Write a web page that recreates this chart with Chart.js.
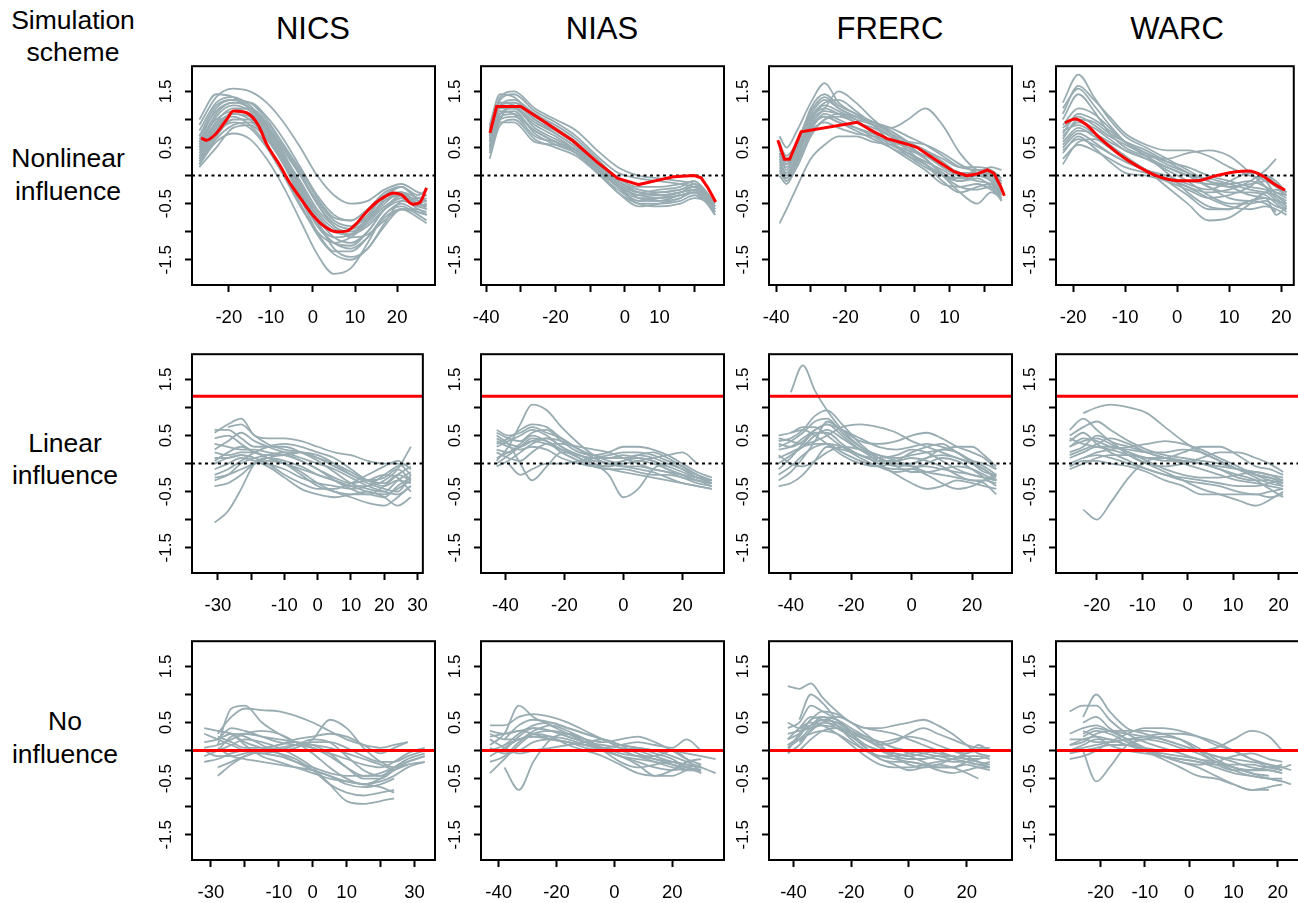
<!DOCTYPE html>
<html lang="en">
<head>
<meta charset="UTF-8">
<title>Simulation schemes</title>
<script src="https://cdn.jsdelivr.net/npm/chart.js@4.4.1/dist/chart.umd.min.js"></script>
<style>
  body { margin:0; background:#fff; width:1298px; height:903px; overflow:hidden; position:relative;
         font-family:"Liberation Sans", Arial, sans-serif; color:#000; }
  .lab { position:absolute; text-align:center; white-space:nowrap; }
  canvas { position:absolute; }
</style>
</head>
<body>
<div class="lab" style="left:0;width:146px;top:4px;font-size:26.5px;line-height:32px">Simulation<br>scheme</div>
<div class="lab" style="left:0;width:136px;top:142px;font-size:26.5px;line-height:33px">Nonlinear<br>influence</div>
<div class="lab" style="left:0;width:130px;top:427px;font-size:26.5px;line-height:32px">Linear<br>influence</div>
<div class="lab" style="left:0;width:130px;top:705px;font-size:26.5px;line-height:33px">No<br>influence</div>

<div class="lab" style="left:213px;width:200px;top:14px;font-size:31px;line-height:30px">NICS</div>
<div class="lab" style="left:502px;width:200px;top:14px;font-size:31px;line-height:30px">NIAS</div>
<div class="lab" style="left:790px;width:200px;top:14px;font-size:31px;line-height:30px">FRERC</div>
<div class="lab" style="left:1077px;width:200px;top:14px;font-size:31px;line-height:30px">WARC</div>

<script>
// ---- axis ticks ----
var yTicks = [-1.5, -1, -0.5, 0, 0.5, 1, 1.5]
var yTickLabels = ['-1.5', '', '-0.5', '', '0.5', '', '1.5']
var ticksA = [-20, -10, 0, 10, 20]
var labelsA = ['-20', '-10', '0', '10', '20']
var ticksB = [-40, -30, -20, -10, 0, 10, 20]
var labelsB = ['-40', '', '-20', '', '0', '10', '']
var ticksC = [-30, -20, -10, 0, 10, 20, 30]
var labelsC2 = ['-30', '', '-10', '0', '10', '20', '30']
var labelsC3 = ['-30', '', '-10', '0', '10', '', '30']
var ticksD = [-40, -20, 0, 20]
var labelsD = ['-40', '-20', '0', '20']

// true effect levels
var trueLinear = 1.2
var trueNone = 0

// ---- row 1: nonlinear influence ----
var nicsNonX = [-27, -23, -19, -15, -11, -7, -3, 1, 5, 9, 13, 17, 21, 25, 27]
var nicsNonGray = [
  [0.9, 1.4, 1.55, 1.5, 1.3, 0.95, 0.5, 0.0, -0.35, -0.5, -0.45, -0.25, -0.15, -0.3, -0.35],
  [0.6, 1.2, 1.35, 1.2, 0.85, 0.35, -0.2, -0.7, -1.0, -1.05, -0.8, -0.45, -0.3, -0.5, -0.45],
  [0.3, 0.75, 0.95, 0.85, 0.5, 0.0, -0.55, -1.0, -1.2, -1.1, -0.85, -0.55, -0.4, -0.6, -0.65],
  [0.2, 0.6, 0.75, 0.65, 0.3, -0.2, -0.8, -1.4, -1.75, -1.65, -1.2, -0.7, -0.55, -0.7, -0.8],
  [0.5, 1.05, 1.25, 1.15, 0.8, 0.3, -0.25, -0.75, -1.1, -1.2, -1.0, -0.6, -0.4, -0.55, -0.5],
  [0.8, 1.3, 1.4, 1.25, 0.9, 0.45, 0.0, -0.45, -0.8, -0.9, -0.75, -0.45, -0.35, -0.5, -0.55],
  [0.35, 0.85, 1.1, 1.05, 0.75, 0.25, -0.35, -0.9, -1.2, -1.3, -1.1, -0.75, -0.6, -0.75, -0.85],
  [0.45, 0.95, 1.2, 1.2, 0.95, 0.55, 0.05, -0.5, -0.9, -1.0, -0.8, -0.4, -0.2, -0.35, -0.25],
  [0.15, 0.5, 0.85, 0.9, 0.65, 0.2, -0.35, -0.85, -1.1, -1.05, -0.75, -0.35, -0.3, -0.55, -0.5],
  [0.7, 1.15, 1.3, 1.2, 0.85, 0.35, -0.2, -0.8, -1.3, -1.45, -1.3, -0.85, -0.45, -0.4, -0.45],
  [0.4, 0.9, 1.1, 1.0, 0.7, 0.25, -0.3, -0.8, -1.0, -0.95, -0.7, -0.35, -0.2, -0.45, -0.6],
  [0.55, 1.1, 1.3, 1.3, 1.05, 0.65, 0.15, -0.35, -0.7, -0.8, -0.6, -0.3, -0.2, -0.4, -0.35],
  [0.25, 0.7, 1.0, 1.0, 0.7, 0.2, -0.4, -1.0, -1.35, -1.35, -1.1, -0.7, -0.5, -0.65, -0.7],
  [0.65, 1.0, 1.15, 1.1, 0.8, 0.35, -0.1, -0.6, -0.9, -1.1, -1.05, -0.8, -0.6, -0.65, -0.7],
  [1.0, 1.45, 1.4, 1.2, 0.9, 0.5, 0.0, -0.5, -0.85, -0.95, -0.8, -0.5, -0.3, -0.4, -0.45],
  [0.3, 0.8, 1.15, 1.2, 0.9, 0.4, -0.15, -0.65, -0.95, -1.05, -0.9, -0.6, -0.45, -0.55, -0.6],
  [0.5, 0.95, 1.05, 0.9, 0.55, 0.05, -0.5, -1.05, -1.4, -1.5, -1.3, -0.9, -0.6, -0.6, -0.7],
  [0.7, 1.25, 1.35, 1.3, 1.0, 0.55, 0.1, -0.4, -0.75, -0.8, -0.6, -0.35, -0.3, -0.45, -0.4],
  [0.2, 0.65, 0.9, 0.95, 0.7, 0.25, -0.3, -0.85, -1.2, -1.25, -1.0, -0.6, -0.35, -0.5, -0.55]
]
var nicsNonRedX = [-26.6, -25.3, -23, -20.5, -18.9, -15.8, -13, -11, -8, -5.5, -3, 0, 3, 5.6, 8, 10, 12.7, 15, 17, 19.1, 21, 23.8, 25.4, 27]
var nicsNonRedY = [0.67, 0.63, 0.75, 1.0, 1.15, 1.12, 0.9, 0.56, 0.2, -0.13, -0.4, -0.71, -0.92, -1.0, -0.99, -0.88, -0.65, -0.48, -0.38, -0.31, -0.34, -0.51, -0.48, -0.22]

var niasNonX = [-39, -36, -32, -26, -20, -14, -8, -2, 4, 10, 16, 20, 23, 26]
var niasNonGray = [
  [0.6, 1.35, 1.45, 1.15, 0.95, 0.7, 0.35, 0.05, -0.05, -0.1, -0.15, -0.2, -0.3, -0.55],
  [0.3, 0.9, 1.0, 0.65, 0.5, 0.35, 0.05, -0.25, -0.45, -0.45, -0.35, -0.3, -0.45, -0.65],
  [0.8, 1.3, 1.3, 1.0, 0.8, 0.55, 0.2, -0.15, -0.35, -0.3, -0.25, -0.2, -0.35, -0.6],
  [0.9, 1.45, 1.4, 1.05, 0.85, 0.6, 0.25, -0.1, -0.3, -0.35, -0.3, -0.25, -0.4, -0.7],
  [0.5, 1.1, 1.15, 0.75, 0.55, 0.4, 0.1, -0.2, -0.5, -0.5, -0.45, -0.35, -0.45, -0.6],
  [0.7, 1.2, 1.2, 0.9, 0.7, 0.45, 0.15, -0.15, -0.3, -0.25, -0.2, -0.1, -0.25, -0.5],
  [0.55, 1.0, 1.05, 0.8, 0.6, 0.4, 0.05, -0.3, -0.55, -0.5, -0.4, -0.3, -0.35, -0.55],
  [0.75, 1.25, 1.35, 1.1, 0.9, 0.65, 0.3, -0.05, -0.2, -0.2, -0.15, -0.1, -0.3, -0.6],
  [0.65, 1.15, 1.1, 0.7, 0.6, 0.4, 0.1, -0.2, -0.4, -0.4, -0.35, -0.3, -0.4, -0.65],
  [0.45, 1.0, 1.25, 1.0, 0.75, 0.5, 0.2, -0.1, -0.3, -0.35, -0.3, -0.2, -0.3, -0.5],
  [0.85, 1.3, 1.25, 0.95, 0.75, 0.5, 0.15, -0.2, -0.35, -0.4, -0.35, -0.3, -0.4, -0.55],
  [0.6, 1.1, 1.2, 0.85, 0.65, 0.45, 0.1, -0.15, -0.4, -0.45, -0.4, -0.25, -0.35, -0.65],
  [0.7, 1.4, 1.5, 1.2, 1.0, 0.8, 0.45, 0.15, 0.0, -0.05, -0.1, -0.15, -0.3, -0.6],
  [0.5, 1.05, 1.1, 0.8, 0.6, 0.45, 0.1, -0.3, -0.5, -0.55, -0.5, -0.4, -0.45, -0.7],
  [0.9, 1.25, 1.3, 1.1, 0.85, 0.55, 0.2, -0.1, -0.25, -0.3, -0.25, -0.15, -0.3, -0.5],
  [0.4, 0.95, 0.95, 0.6, 0.55, 0.45, 0.15, -0.2, -0.45, -0.4, -0.3, -0.25, -0.4, -0.55]
]
var niasNonRedX = [-38.9, -37, -30, -24, -15, -8, -2, 4, 9, 14, 20, 22, 24, 26.2]
var niasNonRedY = [0.76, 1.23, 1.23, 0.99, 0.62, 0.24, -0.05, -0.16, -0.09, -0.02, 0.0, -0.04, -0.22, -0.47]

var frercNonX = [-39, -37, -34, -30, -26, -22, -17, -12, -7, -2, 3, 8, 13, 18, 22, 25]
var frercNonGray = [
  [0.7, 0.5, 0.8, 1.3, 1.65, 1.3, 1.1, 0.95, 0.8, 0.6, 0.45, 0.25, 0.05, 0.05, 0.0, -0.2],
  [0.3, 0.0, 0.3, 0.9, 1.2, 1.5, 1.3, 1.0, 0.75, 0.5, 0.3, 0.05, -0.1, 0.0, -0.1, -0.3],
  [-0.85, -0.6, -0.2, 0.3, 0.55, 0.7, 0.7, 0.6, 0.55, 0.45, 0.35, 0.15, 0.0, -0.1, -0.15, -0.35],
  [0.2, 0.0, 0.4, 1.0, 1.2, 1.1, 0.95, 0.85, 0.7, 0.55, 0.3, 0.0, -0.3, -0.5, -0.3, -0.4],
  [0.5, 0.2, 0.6, 1.1, 1.35, 1.2, 1.05, 0.9, 0.85, 1.0, 1.2, 0.9, 0.4, 0.1, 0.05, -0.1],
  [0.1, -0.1, 0.15, 0.7, 1.0, 1.05, 0.95, 0.8, 0.6, 0.4, 0.2, 0.0, -0.1, -0.05, -0.2, -0.45],
  [0.4, 0.1, 0.5, 1.2, 1.45, 1.25, 1.1, 0.95, 0.75, 0.6, 0.45, 0.3, 0.15, 0.15, 0.1, -0.05],
  [0.0, -0.15, 0.2, 0.8, 1.1, 1.0, 0.85, 0.7, 0.5, 0.3, 0.1, -0.15, -0.2, -0.15, -0.25, -0.4],
  [0.35, 0.15, 0.45, 1.0, 1.25, 1.15, 1.0, 0.75, 0.55, 0.4, 0.25, 0.1, -0.05, 0.1, 0.0, -0.25],
  [0.6, 0.3, 0.5, 0.9, 1.05, 0.95, 0.85, 0.75, 0.65, 0.6, 0.55, 0.4, 0.2, 0.05, -0.05, -0.3],
  [0.15, -0.05, 0.3, 0.95, 1.15, 1.1, 1.0, 0.9, 0.7, 0.45, 0.2, -0.1, -0.3, -0.2, -0.15, -0.35],
  [0.45, 0.25, 0.55, 1.05, 1.3, 1.35, 1.15, 0.9, 0.6, 0.35, 0.15, 0.0, -0.05, 0.05, 0.15, 0.1],
  [0.55, 0.35, 0.6, 1.15, 1.4, 1.2, 1.05, 0.95, 0.85, 0.7, 0.55, 0.35, 0.15, 0.1, 0.05, -0.15],
  [0.25, 0.05, 0.35, 0.85, 1.05, 0.95, 0.8, 0.65, 0.5, 0.35, 0.2, 0.0, -0.2, -0.25, -0.2, -0.35],
  [0.05, -0.05, 0.25, 0.75, 1.0, 1.1, 1.05, 0.95, 0.8, 0.6, 0.4, 0.15, 0.0, 0.05, 0.05, -0.25],
  [0.4, 0.2, 0.45, 0.8, 0.95, 0.85, 0.75, 0.7, 0.6, 0.5, 0.35, 0.2, 0.05, 0.0, -0.1, -0.45]
]
var frercNonRedX = [-39.5, -37.6, -36.1, -32.8, -16.6, -11.8, -8, -2.2, 0.7, 5.5, 11.3, 15.1, 18, 20.9, 22.8, 24.7, 25.8]
var frercNonRedY = [0.63, 0.29, 0.29, 0.78, 0.95, 0.78, 0.66, 0.56, 0.5, 0.3, 0.07, 0.0, 0.03, 0.1, 0.04, -0.19, -0.36]

var warcNonX = [-22, -19, -16, -13, -10, -6, -2, 2, 6, 10, 14, 17, 19, 21]
var warcNonGray = [
  [1.3, 1.8, 1.4, 1.0, 0.7, 0.5, 0.3, 0.1, -0.1, -0.15, -0.1, -0.2, -0.3, -0.4],
  [1.1, 1.6, 1.35, 1.05, 0.75, 0.55, 0.45, 0.45, 0.35, 0.15, 0.0, -0.1, -0.35, -0.5],
  [0.8, 0.9, 0.75, 0.55, 0.35, 0.1, -0.1, -0.35, -0.6, -0.6, -0.45, -0.4, -0.7, -0.55],
  [0.2, 0.6, 0.65, 0.5, 0.3, 0.1, -0.05, -0.2, -0.3, -0.25, -0.1, 0.1, 0.3, null],
  [0.6, 0.85, 0.7, 0.5, 0.3, 0.1, -0.2, -0.5, -0.8, -0.75, -0.5, -0.3, -0.45, -0.6],
  [0.9, 1.2, 1.1, 0.85, 0.6, 0.35, 0.15, 0.0, -0.05, -0.15, -0.25, -0.3, -0.35, -0.45],
  [0.4, 0.7, 0.5, 0.25, 0.05, 0.0, -0.1, -0.25, -0.4, -0.35, -0.2, 0.0, -0.1, -0.3],
  [0.7, 0.95, 0.85, 0.65, 0.45, 0.3, 0.15, 0.0, -0.2, -0.3, -0.3, -0.35, -0.5, -0.65],
  [1.0, 1.45, 1.15, 0.75, 0.5, 0.35, 0.3, 0.4, 0.45, 0.35, 0.05, -0.2, -0.4, -0.55],
  [0.5, 0.75, 0.6, 0.4, 0.25, 0.1, 0.0, -0.15, -0.25, -0.1, 0.05, 0.0, -0.15, -0.3],
  [0.85, 1.05, 0.9, 0.7, 0.55, 0.35, 0.05, -0.3, -0.55, -0.6, -0.45, -0.5, -0.65, null],
  [0.3, 0.55, 0.45, 0.3, 0.15, 0.05, -0.05, -0.1, -0.15, -0.2, -0.35, -0.4, -0.45, -0.5],
  [0.65, 1.0, 0.95, 0.75, 0.6, 0.45, 0.25, 0.05, -0.2, -0.4, -0.45, -0.3, -0.25, -0.35],
  [1.2, 1.55, 1.25, 0.9, 0.6, 0.4, 0.2, 0.05, -0.1, -0.2, -0.15, -0.1, -0.2, -0.35],
  [0.55, 0.8, 0.75, 0.6, 0.45, 0.3, 0.1, -0.1, -0.35, -0.5, -0.5, -0.45, -0.55, -0.6],
  [0.75, 1.1, 1.0, 0.8, 0.6, 0.4, 0.25, 0.15, 0.0, -0.1, -0.2, -0.25, -0.3, -0.35],
  [0.45, 0.65, 0.55, 0.4, 0.25, 0.1, -0.05, -0.2, -0.4, -0.55, -0.6, -0.55, -0.6, -0.7]
]
var warcNonRedX = [-21.6, -19.7, -17.5, -15, -11.3, -7.5, -3.8, 0, 3.8, 7.5, 11.3, 13.8, 16.3, 18.8, 20.7]
var warcNonRedY = [0.94, 1.01, 0.91, 0.68, 0.39, 0.16, -0.01, -0.09, -0.09, 0.0, 0.07, 0.08, 0.0, -0.16, -0.26]

// ---- row 2: linear influence ----
var nicsLinX = [-31, -27, -23, -19, -15, -10, -5, 0, 5, 10, 15, 20, 24, 28]
var nicsLinGray = [
  [-1.05, -0.85, -0.45, 0.0, 0.1, 0.05, -0.05, -0.2, -0.3, -0.4, -0.4, -0.3, -0.1, 0.3],
  [0.55, 0.7, 0.8, 0.5, 0.45, 0.45, 0.4, 0.3, 0.2, 0.15, 0.05, 0.0, 0.0, -0.2],
  [0.6, 0.6, 0.45, 0.3, 0.3, 0.3, 0.2, 0.05, -0.15, -0.35, -0.45, -0.5, -0.3, -0.15],
  [0.2, 0.15, 0.2, 0.2, 0.1, 0.0, -0.2, -0.4, -0.5, -0.55, -0.55, -0.6, -0.4, -0.25],
  [-0.4, -0.35, -0.2, 0.0, 0.05, 0.0, -0.15, -0.35, -0.5, -0.6, -0.7, -0.75, -0.6, -0.4],
  [0.1, 0.1, 0.15, 0.1, 0.0, -0.2, -0.35, -0.45, -0.45, -0.35, -0.2, -0.05, 0.05, -0.1],
  [-0.2, -0.1, 0.05, 0.2, 0.3, 0.35, 0.3, 0.2, 0.1, -0.1, -0.3, -0.4, -0.3, -0.35],
  [0.35, 0.3, 0.25, 0.25, 0.2, 0.15, 0.05, -0.1, -0.3, -0.45, -0.55, -0.4, -0.2, -0.05],
  [0.0, 0.1, 0.15, 0.1, 0.0, -0.1, -0.25, -0.35, -0.4, -0.45, -0.4, -0.2, -0.05, 0.0],
  [-0.1, 0.0, 0.1, 0.05, -0.05, -0.25, -0.45, -0.55, -0.6, -0.55, -0.5, -0.6, -0.75, -0.6],
  [0.45, 0.5, 0.35, 0.2, 0.15, 0.15, 0.2, 0.15, 0.0, -0.2, -0.3, -0.25, -0.1, -0.3],
  [-0.25, -0.2, -0.1, 0.0, 0.1, 0.15, 0.05, -0.1, -0.25, -0.35, -0.3, -0.2, -0.25, -0.5],
  [null, 0.65, 0.7, 0.5, 0.35, 0.25, 0.2, 0.1, 0.0, -0.15, -0.3, -0.35, -0.2, -0.3],
  [0.05, 0.2, 0.3, 0.2, 0.1, 0.0, -0.1, -0.2, -0.3, -0.4, -0.5, -0.55, -0.45, -0.3],
  [-0.3, -0.2, 0.0, 0.1, 0.15, 0.2, 0.2, 0.1, -0.05, -0.2, -0.35, -0.45, -0.5, -0.2],
  [0.25, 0.4, 0.55, 0.4, 0.3, 0.2, 0.1, 0.0, -0.1, -0.25, -0.4, -0.5, -0.55, -0.4]
]

var niasLinX = [-43, -39, -35, -31, -26, -21, -15, -10, -5, 0, 5, 10, 15, 20, 25, 30]
var niasLinGray = [
  [0.05, 0.3, 0.7, 1.05, 0.95, 0.65, 0.35, 0.15, 0.05, 0.0, 0.05, 0.0, -0.1, -0.2, -0.3, -0.35],
  [0.5, 0.35, 0.0, -0.3, -0.05, 0.2, 0.15, 0.0, -0.2, -0.6, -0.45, -0.1, 0.0, -0.1, -0.25, -0.3],
  [0.55, 0.45, 0.4, 0.55, 0.6, 0.4, 0.2, 0.15, 0.2, 0.3, 0.3, 0.25, 0.15, 0.0, -0.15, -0.25],
  [0.3, 0.4, 0.5, 0.6, 0.5, 0.3, 0.15, 0.05, 0.0, -0.05, -0.1, -0.15, -0.25, -0.35, -0.4, -0.45],
  [0.1, 0.2, 0.3, 0.4, 0.35, 0.25, 0.15, 0.1, 0.1, 0.15, 0.1, 0.05, -0.1, -0.2, -0.3, -0.35],
  [-0.05, 0.05, 0.2, 0.35, 0.45, 0.4, 0.25, 0.1, 0.0, -0.05, -0.05, -0.1, -0.15, -0.2, -0.25, -0.3],
  [0.4, 0.3, 0.25, 0.3, 0.25, 0.1, 0.0, -0.05, -0.05, 0.0, 0.05, 0.1, 0.15, 0.2, 0.0, null],
  [0.2, 0.1, 0.05, 0.2, 0.35, 0.35, 0.3, 0.25, 0.2, 0.1, 0.0, -0.1, -0.15, -0.25, -0.3, -0.4],
  [null, 0.0, -0.2, -0.1, 0.0, 0.0, 0.05, 0.1, 0.15, 0.2, 0.2, 0.15, 0.05, -0.05, -0.2, null],
  [0.6, 0.5, 0.55, 0.65, 0.55, 0.45, 0.25, 0.1, 0.0, 0.05, 0.1, 0.05, -0.05, -0.15, -0.25, -0.35],
  [0.25, 0.2, 0.35, 0.5, 0.4, 0.2, 0.05, -0.05, -0.1, -0.1, -0.15, -0.2, -0.2, -0.25, -0.35, -0.4],
  [0.35, 0.45, 0.6, 0.7, 0.65, 0.45, 0.25, 0.15, 0.1, 0.1, 0.15, 0.1, 0.0, -0.1, -0.2, -0.3],
  [0.0, 0.15, 0.3, 0.45, 0.4, 0.25, 0.1, 0.0, -0.05, 0.05, 0.15, 0.2, 0.1, -0.05, -0.2, -0.35],
  [0.45, 0.35, 0.3, 0.4, 0.45, 0.3, 0.1, -0.05, -0.1, -0.15, -0.2, -0.25, -0.3, -0.35, -0.4, -0.45]
]

var frercLinX = [-44, -40, -36, -32, -28, -23, -17, -11, -5, 0, 5, 10, 15, 20, 24, 28]
var frercLinGray = [
  [null, 1.27, 1.75, 1.3, 0.95, 0.6, 0.3, 0.1, 0.0, -0.05, -0.05, -0.1, -0.15, -0.2, -0.25, -0.3],
  [-0.3, -0.15, 0.1, 0.4, 0.75, 0.6, 0.4, 0.35, 0.4, 0.5, 0.55, 0.45, 0.3, 0.2, 0.1, -0.1],
  [0.45, 0.4, 0.35, 0.4, 0.5, 0.65, 0.7, 0.65, 0.55, 0.4, 0.3, 0.2, 0.1, 0.0, -0.1, -0.3],
  [0.0, 0.15, 0.3, 0.5, 0.6, 0.45, 0.25, 0.15, 0.1, 0.15, 0.2, 0.25, 0.3, 0.3, 0.15, -0.05],
  [-0.4, -0.35, -0.2, 0.05, 0.3, 0.25, 0.15, 0.0, -0.2, -0.35, -0.45, -0.4, -0.3, -0.35, -0.4, -0.45],
  [0.3, 0.4, 0.55, 0.75, 0.8, 0.55, 0.3, 0.15, 0.05, -0.05, -0.15, -0.2, -0.25, -0.3, -0.35, -0.55],
  [0.15, 0.0, -0.05, 0.05, 0.2, 0.3, 0.25, 0.1, 0.0, 0.0, 0.1, 0.25, 0.2, 0.0, -0.15, -0.2],
  [0.4, 0.45, 0.6, 0.85, 0.95, 0.7, 0.35, 0.1, -0.05, -0.15, -0.15, -0.1, -0.05, -0.1, -0.2, -0.3],
  [0.1, 0.2, 0.3, 0.35, 0.35, 0.3, 0.15, 0.05, 0.05, 0.1, 0.05, -0.05, -0.2, -0.3, -0.3, -0.35],
  [null, 0.55, 0.6, 0.5, 0.35, 0.15, 0.0, -0.05, 0.05, 0.2, 0.3, 0.35, 0.2, 0.05, 0.0, -0.1],
  [0.5, 0.55, 0.65, 0.65, 0.5, 0.3, 0.1, -0.05, -0.15, -0.1, 0.0, 0.1, 0.05, -0.1, -0.25, -0.4],
  [-0.2, -0.05, 0.15, 0.3, 0.35, 0.2, 0.05, -0.05, -0.1, -0.1, -0.2, -0.35, -0.45, -0.4, -0.3, -0.2],
  [0.25, 0.3, 0.45, 0.6, 0.7, 0.6, 0.45, 0.3, 0.25, 0.3, 0.35, 0.3, 0.2, 0.05, -0.05, -0.2],
  [-0.1, 0.1, 0.35, 0.55, 0.55, 0.35, 0.15, 0.1, 0.15, 0.25, 0.2, 0.05, -0.1, -0.2, -0.25, -0.3],
  [0.35, 0.3, 0.4, 0.6, 0.7, 0.5, 0.25, 0.05, -0.05, 0.0, 0.1, 0.15, 0.1, 0.0, -0.1, -0.25]
]

var warcLinX = [-26, -23, -20, -17, -13, -9, -5, -1, 3, 7, 11, 15, 18, 21]
var warcLinGray = [
  [null, -0.82, -1.0, -0.7, -0.25, 0.05, 0.1, 0.05, 0.0, -0.05, -0.1, -0.15, -0.2, -0.3],
  [null, 0.9, 1.0, 1.05, 1.0, 0.9, 0.65, 0.4, 0.2, 0.05, -0.1, -0.2, -0.25, -0.35],
  [0.6, 0.8, 0.6, 0.4, 0.3, 0.2, 0.1, 0.05, 0.0, -0.1, -0.2, -0.3, -0.45, -0.6],
  [0.3, 0.4, 0.45, 0.35, 0.2, 0.1, 0.05, 0.05, 0.0, -0.1, -0.25, -0.3, -0.3, -0.4],
  [0.1, 0.2, 0.3, 0.3, 0.2, 0.05, -0.1, -0.2, -0.25, -0.25, -0.2, -0.15, -0.2, -0.25],
  [-0.1, 0.0, 0.1, 0.15, 0.15, 0.1, 0.1, 0.2, 0.3, 0.3, 0.15, -0.05, -0.1, -0.2],
  [0.45, 0.35, 0.3, 0.25, 0.15, 0.0, -0.15, -0.3, -0.45, -0.55, -0.65, -0.75, -0.65, -0.5],
  [0.2, 0.3, 0.5, 0.4, 0.15, 0.0, -0.05, 0.0, 0.1, 0.2, 0.2, 0.1, 0.0, -0.15],
  [0.0, 0.1, 0.15, 0.1, 0.0, -0.1, -0.2, -0.3, -0.35, -0.4, -0.5, -0.55, -0.5, -0.45],
  [null, 0.1, 0.2, 0.25, 0.3, 0.35, 0.4, 0.35, 0.25, 0.1, -0.05, -0.2, -0.3, -0.35],
  [0.4, 0.55, 0.35, 0.2, 0.05, -0.1, -0.2, -0.25, -0.3, -0.35, -0.4, -0.4, -0.35, -0.3],
  [-0.05, 0.05, 0.05, 0.0, -0.05, -0.15, -0.3, -0.4, -0.55, -0.55, -0.55, -0.55, -0.6, -0.55],
  [0.5, 0.65, 0.75, 0.6, 0.4, 0.25, 0.15, 0.1, 0.05, 0.0, -0.1, -0.2, -0.25, -0.3],
  [0.15, 0.25, 0.35, 0.45, 0.35, 0.2, 0.1, 0.0, -0.1, -0.2, -0.3, -0.35, -0.4, -0.45],
  [0.3, 0.45, 0.4, 0.3, 0.25, 0.2, 0.2, 0.25, 0.2, 0.05, -0.1, -0.25, -0.35, -0.4]
]

// ---- row 3: no influence ----
var nicsNoX = [-32, -28, -24, -20, -15, -10, -5, 0, 5, 10, 15, 20, 24, 28, 33]
var nicsNoGray = [
  [null, 0.1, 0.75, 0.8, 0.5, 0.3, 0.15, 0.1, 0.05, -0.05, -0.15, -0.25, -0.35, null, null],
  [null, 0.3, 0.6, 0.75, 0.72, 0.7, 0.62, 0.5, 0.35, 0.2, 0.1, 0.05, 0.1, 0.15, null],
  [0.4, 0.35, 0.3, 0.15, 0.05, 0.0, 0.05, 0.2, 0.55, 0.4, 0.05, -0.2, -0.3, -0.25, -0.2],
  [0.0, -0.1, -0.1, -0.05, 0.0, -0.05, -0.15, -0.35, -0.6, -0.75, -0.8, -0.75, -0.7, null, null],
  [-0.1, 0.0, 0.1, 0.2, 0.15, 0.05, -0.1, -0.3, -0.6, -0.9, -0.95, -0.9, -0.85, null, null],
  [null, -0.45, -0.25, -0.1, 0.0, 0.1, 0.15, 0.1, -0.05, -0.3, -0.5, -0.5, -0.35, -0.2, -0.1],
  [0.05, 0.1, 0.2, 0.3, 0.35, 0.3, 0.15, -0.05, -0.3, -0.5, -0.6, -0.55, -0.45, -0.3, -0.2],
  [null, 0.25, 0.15, 0.05, 0.05, 0.1, 0.2, 0.25, 0.3, 0.25, 0.1, -0.05, 0.05, 0.15, null],
  [-0.2, -0.15, -0.05, 0.0, -0.05, -0.1, -0.2, -0.3, -0.4, -0.45, -0.45, -0.4, -0.3, -0.2, -0.1],
  [null, 0.35, 0.3, 0.1, -0.1, -0.2, -0.3, -0.4, -0.5, -0.55, -0.6, -0.65, -0.75, null, null],
  [0.3, 0.2, 0.1, 0.0, -0.05, 0.0, 0.1, 0.2, 0.15, -0.1, -0.35, -0.45, -0.35, -0.25, null],
  [null, 0.05, -0.1, -0.15, -0.2, -0.25, -0.3, -0.35, -0.45, -0.55, -0.6, -0.5, -0.3, -0.15, null],
  [null, 0.2, 0.4, 0.35, 0.25, 0.15, 0.1, 0.05, -0.05, -0.15, -0.25, -0.3, -0.2, -0.05, 0.05],
  [null, 0.0, 0.25, 0.3, 0.25, 0.2, 0.15, 0.05, -0.1, -0.3, -0.45, -0.45, -0.3, -0.15, -0.05],
  [0.15, 0.2, 0.3, 0.25, 0.1, -0.05, -0.2, -0.35, -0.45, -0.6, -0.65, -0.6, -0.5, null, null],
  [null, -0.3, -0.2, -0.1, 0.0, 0.05, 0.1, 0.15, 0.15, 0.05, -0.1, -0.2, -0.2, -0.1, 0.0]
]

var niasNoX = [-43, -38, -33, -28, -22, -16, -10, -4, 2, 8, 14, 20, 25, 30, 35]
var niasNoGray = [
  [0.45, 0.45, 0.6, 0.65, 0.6, 0.5, 0.35, 0.2, 0.1, 0.05, 0.0, -0.1, -0.2, -0.3, -0.4],
  [null, -0.3, -0.7, -0.2, 0.2, 0.3, 0.2, 0.0, -0.2, -0.3, -0.25, -0.2, -0.3, null, null],
  [0.1, 0.3, 0.8, 0.6, 0.45, 0.3, 0.2, 0.15, 0.2, 0.25, 0.15, 0.0, -0.15, -0.25, null],
  [-0.4, -0.15, 0.1, 0.3, 0.35, 0.3, 0.15, 0.0, -0.1, -0.25, -0.45, -0.45, -0.35, -0.3, null],
  [0.3, 0.2, 0.2, 0.35, 0.45, 0.35, 0.2, 0.05, -0.1, -0.15, -0.2, -0.25, -0.3, -0.35, null],
  [0.2, 0.05, -0.05, 0.0, 0.05, 0.1, 0.15, 0.2, 0.1, -0.05, -0.15, -0.2, -0.25, -0.3, null],
  [0.0, 0.1, 0.3, 0.45, 0.5, 0.4, 0.3, 0.2, 0.05, -0.1, -0.1, 0.0, -0.15, -0.4, null],
  [-0.2, -0.1, 0.15, 0.3, 0.25, 0.1, 0.0, -0.1, -0.25, -0.4, -0.45, -0.35, -0.2, -0.15, null],
  [0.25, 0.3, 0.35, 0.3, 0.2, 0.15, 0.1, 0.05, 0.1, 0.15, 0.1, 0.05, 0.2, 0.0, null],
  [null, 0.2, 0.45, 0.55, 0.5, 0.4, 0.3, 0.2, 0.1, 0.05, -0.05, -0.15, -0.3, -0.4, null],
  [0.05, -0.05, 0.0, 0.15, 0.2, 0.15, 0.05, 0.0, 0.0, 0.05, 0.0, 0.0, -0.05, -0.1, -0.15],
  [null, 0.0, 0.25, 0.4, 0.35, 0.25, 0.15, 0.05, -0.05, -0.1, -0.15, -0.25, -0.35, null, null],
  [0.35, 0.3, 0.35, 0.4, 0.35, 0.25, 0.15, 0.1, 0.05, 0.0, -0.1, -0.2, -0.25, -0.3, null],
  [null, 0.1, 0.2, 0.25, 0.25, 0.2, 0.1, 0.0, -0.1, -0.2, -0.3, -0.35, -0.3, -0.25, null],
  [-0.1, 0.05, 0.2, 0.25, 0.2, 0.15, 0.1, 0.05, 0.0, -0.1, -0.2, -0.3, -0.35, -0.35, null]
]

var frercNoX = [-42, -38, -34, -30, -25, -20, -15, -10, -5, 0, 5, 10, 15, 20, 24, 28]
var frercNoGray = [
  [1.15, 1.1, 1.2, 0.95, 0.7, 0.5, 0.4, 0.35, 0.3, 0.2, 0.1, 0.0, -0.1, -0.15, -0.2, -0.25],
  [null, 0.55, 1.0, 0.85, 0.55, 0.3, 0.05, -0.1, -0.1, -0.05, 0.0, -0.05, -0.1, -0.15, -0.2, null],
  [0.0, 0.3, 0.55, 0.7, 0.65, 0.5, 0.4, 0.4, 0.45, 0.5, 0.55, 0.45, 0.3, 0.1, -0.05, -0.1],
  [0.2, 0.4, 0.5, 0.45, 0.3, 0.1, -0.1, -0.25, -0.3, -0.3, -0.25, -0.2, -0.15, -0.1, -0.1, -0.15],
  [-0.05, 0.1, 0.35, 0.5, 0.45, 0.3, 0.1, 0.0, -0.05, -0.1, -0.2, -0.3, -0.3, -0.2, -0.15, -0.1],
  [0.1, 0.25, 0.55, 0.6, 0.45, 0.2, 0.0, -0.15, -0.25, -0.35, -0.3, -0.25, -0.3, -0.4, -0.5, null],
  [0.3, 0.35, 0.4, 0.45, 0.4, 0.3, 0.2, 0.1, 0.15, 0.3, 0.4, 0.3, 0.2, 0.1, 0.05, 0.05],
  [null, 0.0, 0.2, 0.35, 0.4, 0.25, 0.05, -0.15, -0.2, -0.2, -0.25, -0.3, -0.3, -0.25, -0.3, -0.35],
  [0.5, 0.4, 0.45, 0.55, 0.5, 0.35, 0.2, 0.05, -0.05, -0.1, -0.05, 0.0, 0.0, -0.05, 0.1, 0.0],
  [0.05, 0.2, 0.4, 0.55, 0.5, 0.35, 0.25, 0.15, 0.05, 0.0, -0.05, -0.1, -0.15, -0.2, -0.25, -0.2],
  [null, 0.15, 0.35, 0.5, 0.6, 0.5, 0.3, 0.1, -0.1, -0.25, -0.3, -0.25, -0.15, -0.05, 0.0, null],
  [0.4, 0.5, 0.8, 0.7, 0.55, 0.35, 0.2, 0.15, 0.2, 0.25, 0.2, 0.1, 0.0, -0.1, -0.2, -0.3],
  [0.2, 0.3, 0.45, 0.6, 0.55, 0.4, 0.25, 0.15, 0.05, -0.05, -0.1, -0.15, -0.2, -0.2, -0.25, -0.3],
  [null, 0.4, 0.6, 0.55, 0.4, 0.25, 0.1, 0.0, -0.1, -0.15, -0.15, -0.1, -0.1, -0.15, -0.15, null],
  [0.1, 0.2, 0.3, 0.35, 0.3, 0.15, 0.0, -0.1, -0.15, -0.2, -0.25, -0.35, -0.4, -0.35, -0.3, -0.3]
]

var warcNoX = [-27, -24, -21, -18, -14, -10, -6, -2, 2, 6, 10, 14, 18, 21, 23]
var warcNoGray = [
  [null, 0.6, 1.0, 0.7, 0.4, 0.3, 0.2, 0.1, 0.0, -0.1, -0.2, -0.3, -0.35, -0.4, null],
  [0.7, 0.8, 0.8, 0.55, 0.3, 0.15, 0.05, -0.05, -0.15, -0.2, -0.3, -0.4, -0.45, null, null],
  [null, 0.0, -0.55, -0.3, 0.1, 0.2, 0.25, 0.2, 0.05, -0.15, -0.3, -0.4, -0.5, -0.55, null],
  [-0.15, -0.1, 0.0, 0.15, 0.3, 0.4, 0.4, 0.35, 0.25, 0.1, 0.0, -0.15, -0.3, -0.35, null],
  [0.1, 0.15, 0.3, 0.35, 0.35, 0.35, 0.3, 0.2, 0.0, -0.2, -0.35, -0.45, -0.5, -0.55, -0.6],
  [-0.05, 0.0, 0.05, 0.1, 0.1, 0.05, 0.0, 0.0, 0.0, 0.05, 0.2, 0.35, 0.25, 0.0, null],
  [0.3, 0.4, 0.45, 0.35, 0.2, 0.05, -0.1, -0.2, -0.3, -0.45, -0.6, -0.7, -0.65, -0.6, null],
  [null, 0.5, 0.6, 0.4, 0.2, 0.0, -0.15, -0.3, -0.45, -0.5, -0.6, -0.7, -0.7, null, null],
  [0.0, 0.1, 0.2, 0.2, 0.1, 0.0, -0.05, -0.1, -0.15, -0.25, -0.35, -0.35, -0.3, -0.3, -0.25],
  [null, 0.35, 0.25, 0.1, 0.0, -0.05, -0.1, -0.15, -0.2, -0.25, -0.25, -0.25, -0.3, -0.25, null],
  [0.2, 0.2, 0.15, 0.15, 0.2, 0.25, 0.3, 0.3, 0.25, 0.15, 0.0, -0.15, -0.25, -0.35, null],
  [null, 0.25, 0.35, 0.3, 0.15, 0.0, -0.1, -0.2, -0.25, -0.2, -0.1, -0.05, -0.15, -0.2, null],
  [0.1, 0.2, 0.25, 0.2, 0.1, 0.0, -0.1, -0.15, -0.2, -0.3, -0.4, -0.45, -0.5, -0.5, null],
  [null, 0.3, 0.4, 0.35, 0.3, 0.25, 0.2, 0.1, 0.0, -0.1, -0.15, -0.2, -0.25, -0.3, -0.35],
  [0.0, 0.05, 0.1, 0.15, 0.2, 0.2, 0.15, 0.05, -0.05, -0.2, -0.3, -0.35, -0.35, -0.4, null]
]

// ---- drawing ----
Chart.defaults.font.family = '"Liberation Sans", Arial, sans-serif'
Chart.defaults.color = '#000'

var GRAY = 'rgb(152,172,178)'
var RED = '#ff0000'
var BOX_W = 243, BOX_H = 225
var PAD_L = 60, PAD_T = 8, PAD_R = 8, PAD_B = 50

var boxPlugin = {
  id: 'box',
  afterDatasetsDraw(chart) {
    var a = chart.chartArea, ctx = chart.ctx
    ctx.save()
    ctx.strokeStyle = '#000'
    ctx.lineWidth = 2
    ctx.strokeRect(a.left, a.top, a.right - a.left, a.bottom - a.top)
    ctx.restore()
  }
}

var colLeft = [192, 480.5, 768.5, 1056]
var rowTop = [60, 347.5, 635]

var panels = [
  // row 1
  {r:0, c:0, min:-28.75, max:29.0, xs:nicsNonX, gray:nicsNonGray, redX:nicsNonRedX, redY:nicsNonRedY, smooth:true, ticks:ticksA, labels:labelsA, dotted:true},
  {r:0, c:1, min:-41.5, max:28.6, xs:niasNonX, gray:niasNonGray, redX:niasNonRedX, redY:niasNonRedY, smooth:false, ticks:ticksB, labels:labelsB, dotted:true},
  {r:0, c:2, min:-42.05, max:28.0, xs:frercNonX, gray:frercNonGray, redX:frercNonRedX, redY:frercNonRedY, smooth:false, ticks:ticksB, labels:labelsB, dotted:true},
  {r:0, c:3, min:-23.3, max:22.4, xs:warcNonX, gray:warcNonGray, redX:warcNonRedX, redY:warcNonRedY, smooth:true, ticks:ticksA, labels:labelsA, dotted:true},
  // row 2
  {r:1, c:0, min:-37.8, max:31.6, xs:nicsLinX, gray:nicsLinGray, level:trueLinear, ticks:ticksC, labels:labelsC2, dotted:true},
  {r:1, c:1, min:-48.3, max:34.1, xs:niasLinX, gray:niasLinGray, level:trueLinear, ticks:ticksD, labels:labelsD, dotted:true},
  {r:1, c:2, min:-47.2, max:33.2, xs:frercLinX, gray:frercLinGray, level:trueLinear, ticks:ticksD, labels:labelsD, dotted:true},
  {r:1, c:3, min:-29.0, max:24.5, xs:warcLinX, gray:warcLinGray, level:trueLinear, ticks:ticksA, labels:labelsA, dotted:true},
  // row 3
  {r:2, c:0, min:-35.6, max:36.05, xs:nicsNoX, gray:nicsNoGray, level:trueNone, ticks:ticksC, labels:labelsC3, dotted:false},
  {r:2, c:1, min:-46.1, max:37.9, xs:niasNoX, gray:niasNoGray, level:trueNone, ticks:ticksD, labels:labelsD, dotted:false},
  {r:2, c:2, min:-48.5, max:35.7, xs:frercNoX, gray:frercNoGray, level:trueNone, ticks:ticksD, labels:labelsD, dotted:false},
  {r:2, c:3, min:-30.1, max:24.8, xs:warcNoX, gray:warcNoGray, level:trueNone, ticks:ticksA, labels:labelsA, dotted:false}
]

function makePanel(p) {
  var cv = document.createElement('canvas')
  cv.width = PAD_L + BOX_W + PAD_R
  cv.height = PAD_T + BOX_H + PAD_B
  cv.style.left = (colLeft[p.c] - PAD_L) + 'px'
  cv.style.top = (rowTop[p.r] - PAD_T) + 'px'
  document.body.appendChild(cv)

  var datasets = []
  // red: estimated / true effect (drawn on top, so first)
  if (p.redX) {
    datasets.push({
      data: p.redX.map((x, i) => ({x: x, y: p.redY[i]})),
      borderColor: RED, borderWidth: 3,
      tension: 0, cubicInterpolationMode: p.smooth ? 'monotone' : 'default'
    })
  } else {
    datasets.push({
      data: [{x: p.min, y: p.level}, {x: p.max, y: p.level}],
      borderColor: RED, borderWidth: 3
    })
  }
  if (p.dotted) {
    datasets.push({
      data: [{x: p.min, y: 0}, {x: p.max, y: 0}],
      borderColor: '#000', borderWidth: 2, borderDash: [3, 3.5]
    })
  }
  p.gray.forEach(g => {
    datasets.push({
      data: p.xs.map((x, i) => ({x: x, y: g[i]})),
      borderColor: GRAY, borderWidth: 1.8,
      cubicInterpolationMode: 'monotone'
    })
  })

  new Chart(cv, {
    type: 'line',
    data: {datasets: datasets},
    options: {
      responsive: false,
      animation: false,
      devicePixelRatio: 1,
      layout: {padding: {left: 0, top: PAD_T, right: PAD_R, bottom: 0}},
      plugins: {legend: {display: false}, tooltip: {enabled: false}},
      elements: {point: {radius: 0}},
      scales: {
        x: {
          type: 'linear', min: p.min, max: p.max,
          afterBuildTicks: s => { s.ticks = p.ticks.map(v => ({value: v})) },
          afterFit: s => { s.height = PAD_B },
          border: {display: false},
          grid: {drawOnChartArea: false, drawTicks: true, tickLength: 7, tickWidth: 2, tickColor: '#000'},
          ticks: {autoSkip: false, minRotation: 0, maxRotation: 0, padding: 15, color: '#000',
                  font: {size: 18.5}, callback: (v, i) => p.labels[i]}
        },
        y: {
          type: 'linear', min: -1.95, max: 1.95,
          afterBuildTicks: s => { s.ticks = yTicks.map(v => ({value: v})) },
          afterFit: s => { s.width = PAD_L },
          border: {display: false},
          grid: {drawOnChartArea: false, drawTicks: true, tickLength: 7, tickWidth: 2, tickColor: '#000'},
          ticks: {autoSkip: false, minRotation: 90, maxRotation: 90, crossAlign: 'center', padding: 4,
                  color: '#000', font: {size: 17}, callback: (v, i) => yTickLabels[i]}
        }
      }
    },
    plugins: [boxPlugin]
  })
}

panels.forEach(makePanel)
</script>
</body>
</html>
